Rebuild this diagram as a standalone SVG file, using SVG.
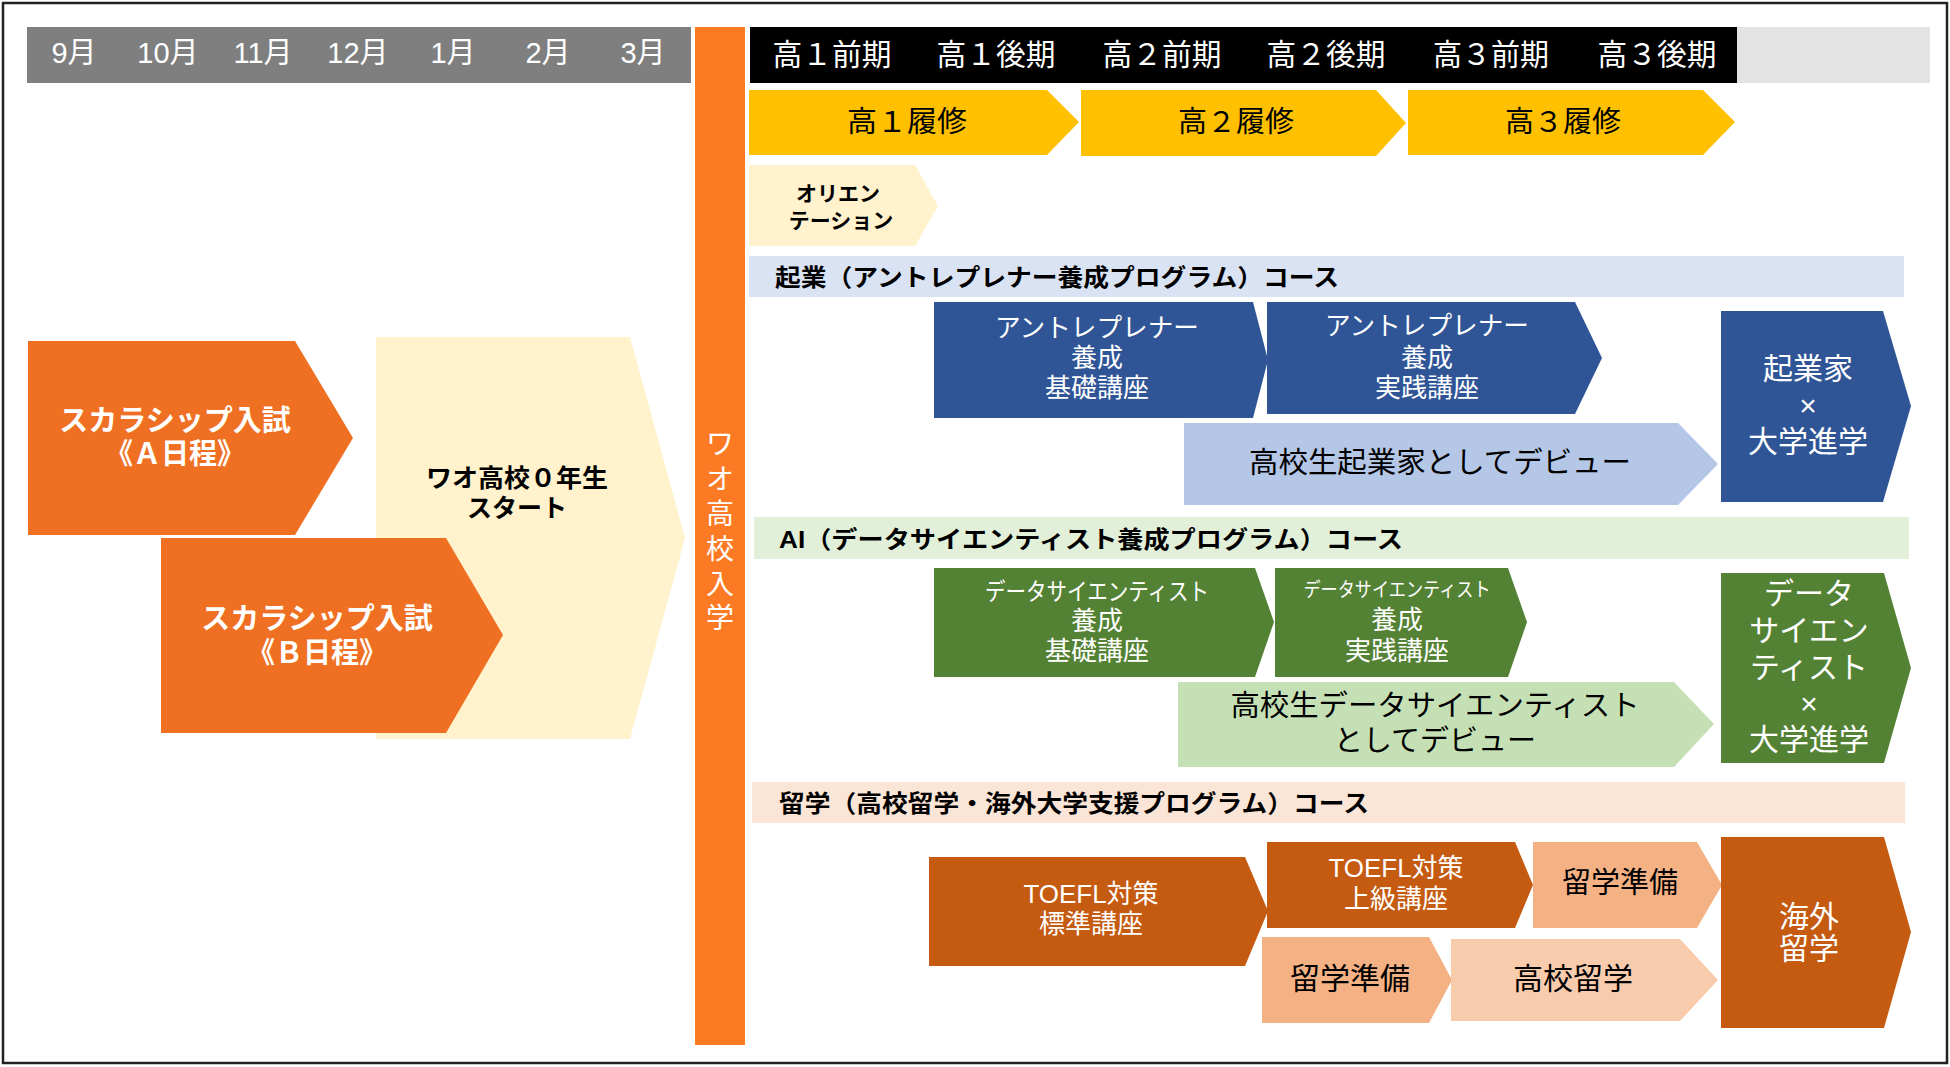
<svg xmlns="http://www.w3.org/2000/svg" width="1950" height="1067" viewBox="0 0 1950 1067">
<style>
text{font-family:"Liberation Sans","Noto Sans CJK JP",sans-serif;dominant-baseline:central;text-anchor:middle}
.w{fill:#fff}.k{fill:#000}.b{font-weight:bold}
.mon{font-size:29px;fill:#fff}
.sem{font-size:30px;fill:#fff}
.yr{font-size:29px;fill:#000}
.band{font-size:24px;font-weight:bold;fill:#000;text-anchor:start}
.f26{font-size:26px}.f29{font-size:29px}.f30{font-size:30px}
.blue{fill:#2F5597}.lblue{fill:#B4C7E7}.green{fill:#548235}.lgreen{fill:#C5E0B4}
.brn{fill:#C55A11}.lor{fill:#F4B183}.lor2{fill:#F8CBAD}.cream{fill:#FFF2CC}.lorg{fill:#EF7022}
</style>
<rect x="3" y="3" width="1944" height="1060" fill="#fff" stroke="#222" stroke-width="2.5"/>

<g id="months">
<rect x="27" y="27" width="664" height="56" fill="#7F7F7F"/>
<text class="mon" x="74" y="53">9月</text>
<text class="mon" x="168" y="53">10月</text>
<text class="mon" x="263" y="53">11月</text>
<text class="mon" x="358" y="53">12月</text>
<text class="mon" x="453" y="53">1月</text>
<text class="mon" x="548" y="53">2月</text>
<text class="mon" x="643" y="53">3月</text>
</g>

<g id="semesters">
<rect x="750" y="27" width="987" height="56" fill="#000"/>
<rect x="1737" y="27" width="193" height="56" fill="#E3E3E3"/>
<text class="sem" x="832" y="54" textLength="119" lengthAdjust="spacingAndGlyphs">高１前期</text>
<text class="sem" x="996" y="54" textLength="119" lengthAdjust="spacingAndGlyphs">高１後期</text>
<text class="sem" x="1162" y="54" textLength="119" lengthAdjust="spacingAndGlyphs">高２前期</text>
<text class="sem" x="1326" y="54" textLength="119" lengthAdjust="spacingAndGlyphs">高２後期</text>
<text class="sem" x="1491" y="54" textLength="116" lengthAdjust="spacingAndGlyphs">高３前期</text>
<text class="sem" x="1657" y="54" textLength="119" lengthAdjust="spacingAndGlyphs">高３後期</text>
</g>

<g id="enroll">
<rect x="695" y="27" width="50" height="1018" fill="#FD7A24"/>
<text class="w" style="font-size:28px"><tspan x="720" y="444">ワ</tspan><tspan x="720" y="479">オ</tspan><tspan x="720" y="514">高</tspan><tspan x="720" y="549">校</tspan><tspan x="720" y="584">入</tspan><tspan x="720" y="618">学</tspan></text>
</g>

<g id="zero-year">
<polygon class="cream" points="376,337 630,337 685,538 630,739 376,739"/>
<text class="k b" style="font-size:25px"><tspan x="517" y="478" textLength="182" lengthAdjust="spacingAndGlyphs">ワオ高校０年生</tspan><tspan x="517" y="508">スタート</tspan></text>
</g>
<g id="exam-a">
<polygon class="lorg" points="28,341 295,341 353,438 295,535 28,535"/>
<text class="w b f29"><tspan x="175" y="421">スカラシップ入試</tspan><tspan x="175" y="454" textLength="140" lengthAdjust="spacingAndGlyphs">《Ａ日程》</tspan></text>
</g>
<g id="exam-b">
<polygon class="lorg" points="161,538 446,538 503,635 446,733 161,733"/>
<text class="w b f29"><tspan x="317" y="619">スカラシップ入試</tspan><tspan x="317" y="653" textLength="140" lengthAdjust="spacingAndGlyphs">《Ｂ日程》</tspan></text>
</g>

<g id="year1">
<polygon fill="#FFC000" points="749,90 1047,90 1079,122 1047,155 749,155"/>
<text class="yr" x="907" y="122" textLength="120" lengthAdjust="spacingAndGlyphs">高１履修</text>
</g>
<g id="year2">
<polygon fill="#FFC000" points="1081,90 1376,90 1406,123 1376,156 1081,156"/>
<text class="yr" x="1236" y="122" textLength="116" lengthAdjust="spacingAndGlyphs">高２履修</text>
</g>
<g id="year3">
<polygon fill="#FFC000" points="1408,90 1703,90 1735,122 1703,155 1408,155"/>
<text class="yr" x="1563" y="122" textLength="116" lengthAdjust="spacingAndGlyphs">高３履修</text>
</g>

<g id="orientation">
<polygon class="cream" points="749,165 915,165 938,206 915,246 749,246"/>
<text class="k b" style="font-size:21px"><tspan x="838" y="193">オリエン</tspan><tspan x="841" y="220">テーション</tspan></text>
</g>

<g id="band-entre">
<rect x="749" y="256" width="1155" height="41" fill="#DAE3F3"/>
<text class="band" x="775" y="277" textLength="564" lengthAdjust="spacingAndGlyphs">起業（アントレプレナー養成プログラム）コース</text>
</g>
<g id="entre-basic">
<polygon class="blue" points="934,302 1253,302 1268,360 1253,418 934,418"/>
<text class="w f26"><tspan x="1097" y="328" textLength="204" lengthAdjust="spacingAndGlyphs">アントレプレナー</tspan><tspan x="1097" y="358">養成</tspan><tspan x="1097" y="388">基礎講座</tspan></text>
</g>
<g id="entre-practice">
<polygon class="blue" points="1267,302 1575,302 1602,358 1575,414 1267,414"/>
<text class="w f26"><tspan x="1427" y="326" textLength="204" lengthAdjust="spacingAndGlyphs">アントレプレナー</tspan><tspan x="1427" y="358">養成</tspan><tspan x="1427" y="388">実践講座</tspan></text>
</g>
<g id="entre-debut">
<polygon class="lblue" points="1184,423 1678,423 1718,464 1678,505 1184,505"/>
<text class="k f29" x="1440" y="463" textLength="382" lengthAdjust="spacingAndGlyphs">高校生起業家としてデビュー</text>
</g>
<g id="entre-goal">
<polygon class="blue" points="1721,311 1883,311 1911,406 1883,502 1721,502"/>
<text class="w f30"><tspan x="1808" y="368">起業家</tspan><tspan x="1808" y="405">×</tspan><tspan x="1808" y="441">大学進学</tspan></text>
</g>

<g id="band-ai">
<rect x="754" y="517" width="1155" height="42" fill="#E2F0D9"/>
<text class="band" x="779" y="539" textLength="624" lengthAdjust="spacingAndGlyphs">AI（データサイエンティスト養成プログラム）コース</text>
</g>
<g id="ai-basic">
<polygon class="green" points="934,568 1255,568 1274,622 1255,677 934,677"/>
<text class="w f26"><tspan x="1097" y="591" style="font-size:24px" textLength="224" lengthAdjust="spacingAndGlyphs">データサイエンティスト</tspan><tspan x="1097" y="621">養成</tspan><tspan x="1097" y="651">基礎講座</tspan></text>
</g>
<g id="ai-practice">
<polygon class="green" points="1275,568 1508,568 1527,622 1508,677 1275,677"/>
<text class="w f26"><tspan x="1397" y="590" style="font-size:20px" textLength="187" lengthAdjust="spacingAndGlyphs">データサイエンティスト</tspan><tspan x="1397" y="620">養成</tspan><tspan x="1397" y="651">実践講座</tspan></text>
</g>
<g id="ai-debut">
<polygon class="lgreen" points="1178,682 1674,682 1714,724 1674,767 1178,767"/>
<text class="k f29"><tspan x="1435" y="706" textLength="409" lengthAdjust="spacingAndGlyphs">高校生データサイエンティスト</tspan><tspan x="1435" y="741">としてデビュー</tspan></text>
</g>
<g id="ai-goal">
<polygon class="green" points="1721,573 1884,573 1911,668 1884,763 1721,763"/>
<text class="w f30"><tspan x="1809" y="593">データ</tspan><tspan x="1809" y="630">サイエン</tspan><tspan x="1809" y="667">ティスト</tspan><tspan x="1809" y="703">×</tspan><tspan x="1809" y="739">大学進学</tspan></text>
</g>

<g id="band-abroad">
<rect x="752" y="782" width="1153" height="41" fill="#FBE5D6"/>
<text class="band" x="779" y="803" textLength="590" lengthAdjust="spacingAndGlyphs">留学（高校留学・海外大学支援プログラム）コース</text>
</g>
<g id="toefl-std">
<polygon class="brn" points="929,857 1245,857 1268,911 1245,966 929,966"/>
<text class="w f26"><tspan x="1091" y="894" textLength="135" lengthAdjust="spacingAndGlyphs">TOEFL対策</tspan><tspan x="1091" y="924">標準講座</tspan></text>
</g>
<g id="toefl-adv">
<polygon class="brn" points="1267,842 1515,842 1533,885 1515,928 1267,928"/>
<text class="w f26"><tspan x="1396" y="868" textLength="135" lengthAdjust="spacingAndGlyphs">TOEFL対策</tspan><tspan x="1396" y="899">上級講座</tspan></text>
</g>
<g id="prep-top">
<polygon class="lor" points="1533,842 1697,842 1722,885 1697,928 1533,928"/>
<text class="k f29" x="1620" y="883">留学準備</text>
</g>
<g id="prep-bottom">
<polygon class="lor" points="1262,937 1429,937 1452,980 1429,1023 1262,1023"/>
<text class="k f30" x="1350" y="978">留学準備</text>
</g>
<g id="hs-abroad">
<polygon class="lor2" points="1451,939 1680,939 1718,980 1680,1021 1451,1021"/>
<text class="k f30" x="1573" y="978">高校留学</text>
</g>
<g id="abroad-goal">
<polygon class="brn" points="1721,837 1884,837 1911,932 1884,1028 1721,1028"/>
<text class="w f30"><tspan x="1809" y="916">海外</tspan><tspan x="1809" y="948">留学</tspan></text>
</g>

<g id="connectors"/>
</svg>
